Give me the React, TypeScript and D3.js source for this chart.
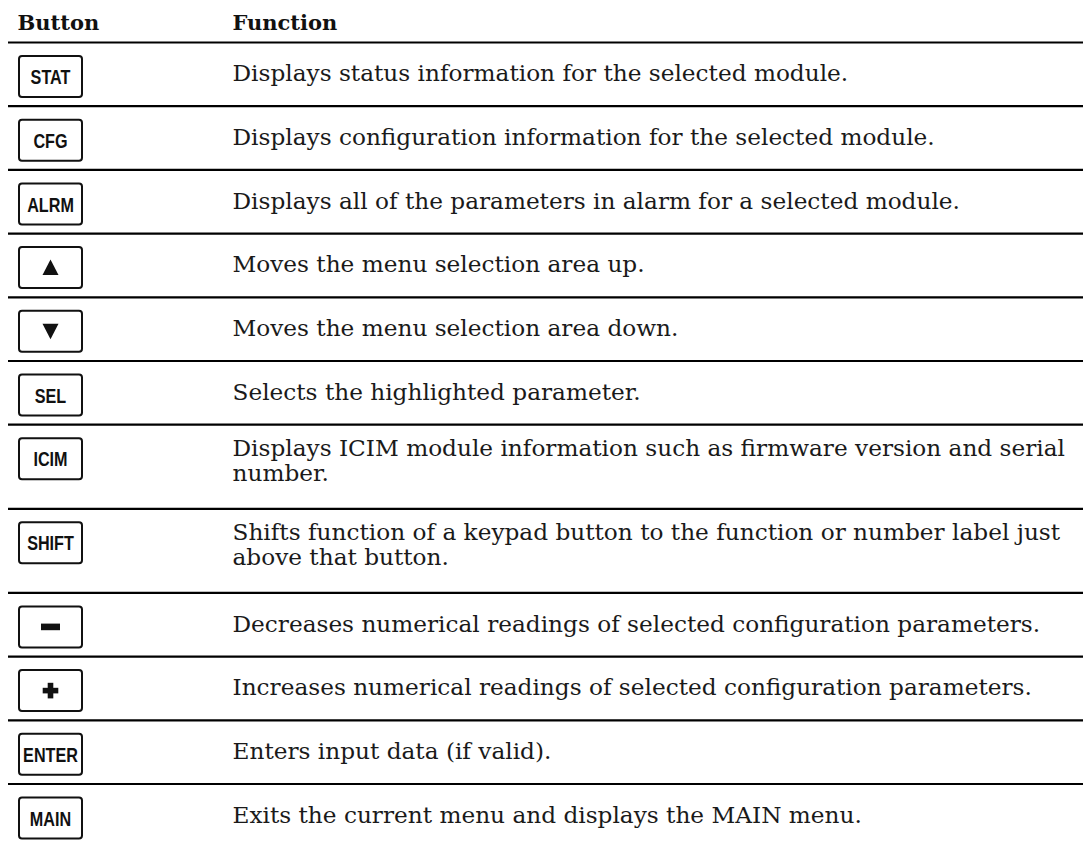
import React from "react";
import * as d3 from "d3";

// table content
const headers = ["Button", "Function"];
const buttons = ["STAT", "CFG", "ALRM", "up", "down", "SEL", "ICIM", "SHIFT", "minus", "plus", "ENTER", "MAIN"];
const functions: string[][] = [
  ["Displays status information for the selected module."],
  ["Displays configuration information for the selected module."],
  ["Displays all of the parameters in alarm for a selected module."],
  ["Moves the menu selection area up."],
  ["Moves the menu selection area down."],
  ["Selects the highlighted parameter."],
  ["Displays ICIM module information such as firmware version and serial", "number."],
  ["Shifts function of a keypad button to the function or number label just", "above that button."],
  ["Decreases numerical readings of selected configuration parameters."],
  ["Increases numerical readings of selected configuration parameters."],
  ["Enters input data (if valid)."],
  ["Exits the current menu and displays the MAIN menu."],
];

const W = 1083;
const H = 842;
const lineX0 = 8;
const headLineY = 42.5;
const col1X = 17.5;
const col2X = 232.5;
const serif = "'DejaVu Serif', serif";
const sans = "'Liberation Sans', Arial, sans-serif";

const rowHeights = functions.map((f) => 63.7 + (f.length - 1) * 20.4);
const rowTops = [headLineY, ...Array.from(d3.cumsum(rowHeights), (c) => headLineY + c)];

const boxX = 19;
const boxW = 63;
const boxH = 41;

const Icon = ({ kind, cx, cy }: { kind: string; cx: number; cy: number }) => {
  if (kind === "up") {
    const p = d3.path();
    p.moveTo(cx - 8, cy + 7.5);
    p.lineTo(cx + 8, cy + 7.5);
    p.lineTo(cx, cy - 8);
    p.closePath();
    return <path d={p.toString()} fill="#111" />;
  }
  if (kind === "down") {
    const p = d3.path();
    p.moveTo(cx - 8, cy - 7.5);
    p.lineTo(cx + 8, cy - 7.5);
    p.lineTo(cx, cy + 8);
    p.closePath();
    return <path d={p.toString()} fill="#111" />;
  }
  if (kind === "minus") {
    return <rect x={cx - 9.5} y={cy - 3.3} width={19} height={6.6} fill="#111" />;
  }
  if (kind === "plus") {
    return (
      <g fill="#111">
        <rect x={cx - 7.8} y={cy - 2.8} width={15.6} height={5.6} />
        <rect x={cx - 2.8} y={cy - 7.8} width={5.6} height={15.6} />
      </g>
    );
  }
  return (
    <g transform={`translate(${cx},${cy + 7.6}) scale(0.77,1)`}>
      <text textAnchor="middle" fontFamily={sans} fontWeight="bold" fontSize={21} fill="#111">
        {kind}
      </text>
    </g>
  );
};

export default function App() {
  return (
    <svg
      width={W}
      height={H}
      style={{ position: "absolute", left: 0, top: 0, background: "#fff" }}
    >
      <text x={col1X} y={29.5} fontFamily={serif} fontWeight="bold" fontSize={21} fill="#111">
        {headers[0]}
      </text>
      <text x={col2X} y={29.5} fontFamily={serif} fontWeight="bold" fontSize={21} fill="#111">
        {headers[1]}
      </text>

      {rowTops.map((y, i) => (
        <line key={`l${i}`} x1={lineX0} x2={W} y1={y} y2={y} stroke="#000" strokeWidth={2.2} />
      ))}

      {buttons.map((b, i) => {
        const top = rowTops[i];
        const by = top + 13.5;
        const n = functions[i].length;
        const base = top + rowHeights[i] / 2 + 7 - (n - 1) * 17.5;
        return (
          <g key={b}>
            <rect
              x={boxX}
              y={by}
              width={boxW}
              height={boxH}
              rx={3}
              fill="#fff"
              stroke="#111"
              strokeWidth={2}
            />
            <Icon kind={b} cx={boxX + boxW / 2} cy={by + boxH / 2} />
            {functions[i].map((t, j) => (
              <g key={j} transform={`translate(${col2X},${base + j * 25}) scale(1.08,1)`}>
                <text x={0} y={0} fontFamily={serif} fontSize={21.5} fill="#1a1a1a">
                  {t}
                </text>
              </g>
            ))}
          </g>
        );
      })}
    </svg>
  );
}
